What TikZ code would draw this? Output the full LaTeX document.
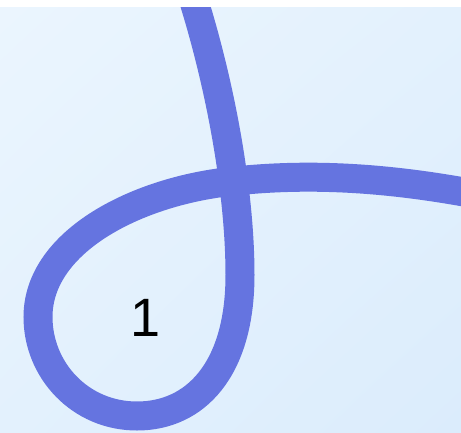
\documentclass[tikz,border=0pt]{standalone}
\usepackage{fontspec}
\setmainfont{Liberation Sans}
\usetikzlibrary{shadings}
\definecolor{bgtl}{RGB}{235,245,254}
\definecolor{bgmid}{RGB}{227,241,253}
\definecolor{bgbr}{RGB}{219,236,252}
\definecolor{loopblue}{RGB}{101,116,224}

\begin{document}
\begin{tikzpicture}[x=1pt, y=-1pt,
  loopline/.style={draw=loopblue, line width=29pt},
  num/.style={font=\fontsize{54}{54}\selectfont, inner sep=0pt}
]
  \useasboundingbox (0,0) rectangle (461,432);
  \fill[white] (0,0) rectangle (461,7);
  \shade[upper left=bgtl, upper right=bgmid, lower left=bgmid, lower right=bgbr]
    (0,7) rectangle (461,432);
  \coordinate (top)   at (192,-5);
  \coordinate (cross) at (235,181);
  \coordinate (down)  at (240,275);
  \coordinate (bot)   at (137,416);
  \coordinate (left)  at (38,317);
  \coordinate (exit)  at (475,194);
  \begin{scope}
    \clip (0,7) rectangle (461,432);
    \draw[loopline] (top) .. controls (222,90) and (240,195) .. (down)
      .. controls (240,370) and (195,416) .. (bot)
      .. controls (80,416) and (38,370) .. (left)
      .. controls (38,240) and (140,190) .. (cross)
      .. controls (320,172) and (400,180) .. (exit);
  \end{scope}
  \node[num] (one) at (146,318) {1};
\end{tikzpicture}
\end{document}
